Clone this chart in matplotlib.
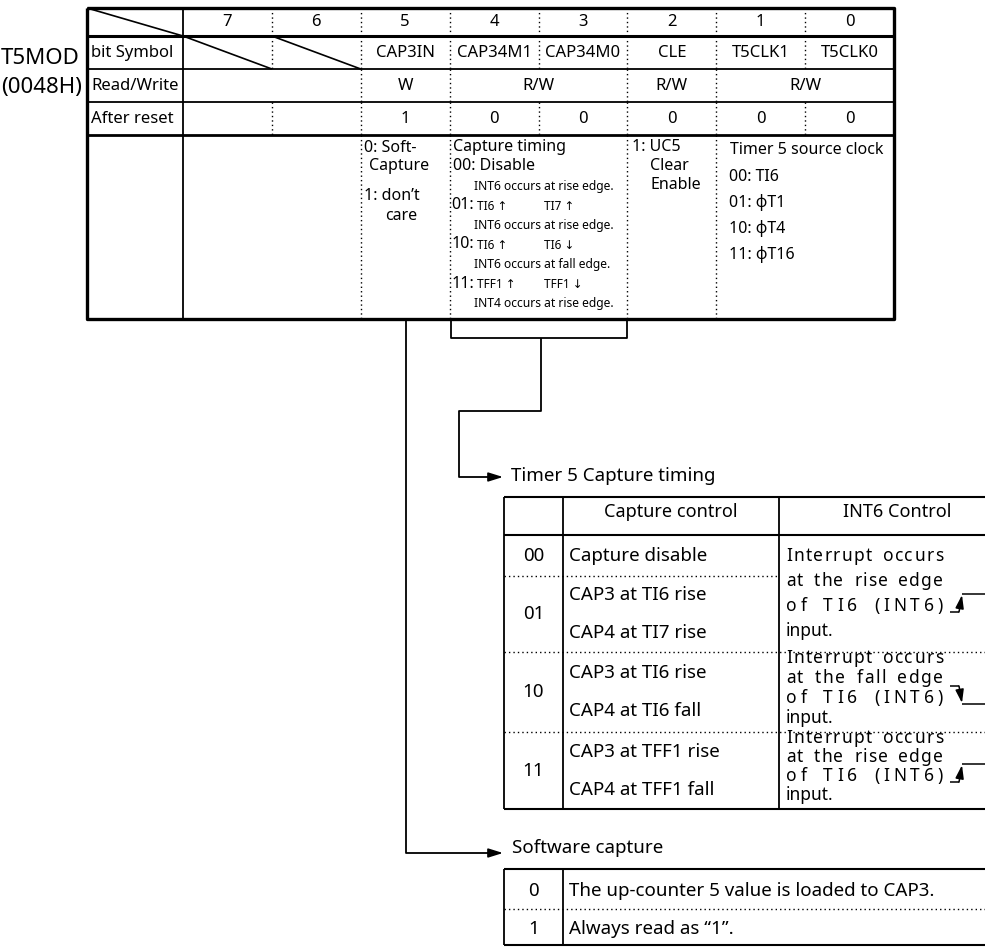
import matplotlib.pyplot as plt

plt.rcParams['font.family'] = ['Noto Sans', 'DejaVu Sans']

# ---- register T5MOD ----
reg_name = 'T5MOD'
reg_addr = '(0048H)'
row_labels = ['bit Symbol', 'Read/Write', 'After reset']
bits = ['7', '6', '5', '4', '3', '2', '1', '0']
symbols = ['', '', 'CAP3IN', 'CAP34M1', 'CAP34M0', 'CLE', 'T5CLK1', 'T5CLK0']
rw_spans = [(0, 2, ''), (2, 3, 'W'), (3, 5, 'R/W'), (5, 6, 'R/W'), (6, 8, 'R/W')]
reset_vals = ['', '', '1', '0', '0', '0', '0', '0']
desc_spans = [(0, 2), (2, 3), (3, 5), (5, 6), (6, 8)]

cap3in_desc = ['0: Soft-', 'Capture', '1: don\u2019t', 'care']
capmode_title = 'Capture timing'
capmode_codes = ['00', '01', '10', '11']
capmode_cap3 = ['Disable', 'TI6 \u2191', 'TI6 \u2191', 'TFF1 \u2191']
capmode_cap4 = ['', 'TI7 \u2191', 'TI6 \u2193', 'TFF1 \u2193']
capmode_int = ['INT6 occurs at rise edge.', 'INT6 occurs at rise edge.',
               'INT6 occurs at fall edge.', 'INT4 occurs at rise edge.']
cle_desc = ['1: UC5', 'Clear', 'Enable']
clk_title = 'Timer 5 source clock'
clk_codes = ['00', '01', '10', '11']
clk_src = ['TI6', '\u03d5T1', '\u03d5T4', '\u03d5T16']

# ---- Timer 5 capture timing table ----
capture_title = 'Timer 5 Capture timing'
cap_header = ['', 'Capture control', 'INT6 Control']
cap_modes = ['00', '01', '10', '11']
cap_ctrl = [['Capture disable'],
            ['CAP3 at TI6 rise', 'CAP4 at TI7 rise'],
            ['CAP3 at TI6 rise', 'CAP4 at TI6 fall'],
            ['CAP3 at TFF1 rise', 'CAP4 at TFF1 fall']]
int6_rows = [(0, 2), (2, 3), (3, 4)]
int6_text = [['Interrupt occurs', 'at the rise edge', 'of TI6 (INT6)', 'input.'],
             ['Interrupt occurs', 'at the fall edge', 'of TI6 (INT6)', 'input.'],
             ['Interrupt occurs', 'at the rise edge', 'of TI6 (INT6)', 'input.']]
int6_edge = ['rise', 'fall', 'rise']

# ---- software capture table ----
sw_title = 'Software capture'
sw_vals = ['0', '1']
sw_text = ['The up-counter 5 value is loaded to CAP3.', 'Always read as \u201c1\u201d.']

fig = plt.figure(figsize=(9.85, 9.47), dpi=100)
ax = fig.add_axes([0, 0, 1, 1])
ax.set_xlim(0, 985)
ax.set_ylim(947, 0)
ax.axis('off')
renderer = fig.canvas.get_renderer()

DOT = (0, (1, 2.2))
K = 'black'


def seg(xs, ys, lw=1.2, ls='-'):
    ax.plot(xs, ys, color=K, lw=lw, ls=ls, solid_capstyle='butt')


def txt(x, y, s, size, ha='left'):
    return ax.text(x, y, s, fontsize=size, ha=ha, va='center', color=K)


def arrow(x0, y0, x1, y1, lw=1.2, scale=11):
    ax.annotate('', xy=(x1, y1), xytext=(x0, y0),
                arrowprops=dict(arrowstyle='-|>,head_length=0.8,head_width=0.25',
                                color=K, lw=lw, shrinkA=0, shrinkB=0,
                                mutation_scale=scale))


def spaced(line, x0, x1, y, size):
    # letter-spaced line filling x0..x1
    space_w = size * 100 / 72 * 0.5
    items, widths = [], []
    for ch in line:
        if ch == ' ':
            items.append(None)
            widths.append(space_w)
        else:
            t = txt(0, y, ch, size)
            items.append(t)
            widths.append(t.get_window_extent(renderer).width)
    extra = (x1 - x0 - sum(widths)) / max(len(line) - 1, 1)
    x = x0
    for t, w in zip(items, widths):
        if t is not None:
            t.set_x(x)
        x += w + extra


# ================= register table =================
L, C0 = 87, 183
cw = (894 - C0) / 8
cx = [C0 + cw * i for i in range(9)]
ry = [8, 36, 69, 102, 135, 319]
R = cx[-1]
TS = 11.5

seg([L, R, R, L, L], [ry[0], ry[0], ry[-1], ry[-1], ry[0]], lw=2.4)
seg([L, R], [ry[1]] * 2, lw=2.2)
seg([L, R], [ry[2]] * 2, lw=1.3)
seg([L, R], [ry[3]] * 2, lw=1.3)
seg([L, R], [ry[4]] * 2, lw=2.0)
seg([C0, C0], [ry[0], ry[-1]], lw=1.3)

# dotted column separators
for i in range(1, 8):
    seg([cx[i]] * 2, [ry[0], ry[1]], lw=1, ls=DOT)
    seg([cx[i]] * 2, [ry[1], ry[2]], lw=1, ls=DOT)
    seg([cx[i]] * 2, [ry[3], ry[4]], lw=1, ls=DOT)
for a, b, _ in rw_spans[1:]:
    seg([cx[a]] * 2, [ry[2], ry[3]], lw=1, ls=DOT)
for a, b in desc_spans[1:]:
    seg([cx[a]] * 2, [ry[4], ry[5]], lw=1, ls=DOT)

# diagonals
seg([L, C0], [ry[0], ry[1]], lw=1.2)
seg([cx[0], cx[1]], [ry[1], ry[2]], lw=1.2)
seg([cx[1], cx[2]], [ry[1], ry[2]], lw=1.2)

txt(1, 58, reg_name, 16)
txt(1, 87, reg_addr, 16)
for j, lab in enumerate(row_labels):
    txt(L + 4, (ry[j + 1] + ry[j + 2]) / 2, lab, 12)

for i in range(8):
    mid = (cx[i] + cx[i + 1]) / 2
    txt(mid, (ry[0] + ry[1]) / 2, bits[i], 12, 'center')
    txt(mid, (ry[1] + ry[2]) / 2, symbols[i], 12, 'center')
    txt(mid, (ry[3] + ry[4]) / 2, reset_vals[i], 12, 'center')
for a, b, s in rw_spans:
    txt((cx[a] + cx[b]) / 2, (ry[2] + ry[3]) / 2, s, 12, 'center')

# bit 5 description
txt(cx[2] + 3, 148, cap3in_desc[0], TS)
txt(cx[2] + 8, 166, cap3in_desc[1], TS)
txt(cx[2] + 3, 196, cap3in_desc[2], TS)
txt(cx[2] + 24, 216, cap3in_desc[3], TS)

# bits 4-3 description
x3 = cx[3] + 3
txt(x3, 147, capmode_title, TS)
for i, code in enumerate(capmode_codes):
    y = 166 + 39.2 * i
    if i == 0:
        txt(x3, y, code + ': ' + capmode_cap3[i], TS)
    else:
        txt(x3 - 1, y, code + ':', TS)
        txt(x3 + 24, y + 1, capmode_cap3[i], 8.5)
        txt(x3 + 91, y + 1, capmode_cap4[i], 8.5)
    txt(x3 + 21, y + 20, capmode_int[i], 8.7)

# bit 2 description
txt(cx[5] + 5, 147, cle_desc[0], TS)
txt(cx[5] + 23, 166, cle_desc[1], TS)
txt(cx[5] + 23, 185, cle_desc[2], TS)

# bits 1-0 description
txt(cx[6] + 14, 150, clk_title, TS)
for i, (c, s) in enumerate(zip(clk_codes, clk_src)):
    txt(cx[6] + 13, 177 + 25.7 * i, c + ': ' + s, TS)

# ================= connectors =================
seg([406, 406, 495], [ry[-1], 853, 853], lw=1.3)
arrow(490, 853, 503, 853)
xb0, xb1 = cx[3] + 1, cx[5]
seg([xb0, xb0, xb1, xb1], [ry[-1], 338, 338, ry[-1]], lw=1.3)
seg([541, 541, 459, 459, 495], [338, 411, 411, 477, 477], lw=1.3)
arrow(490, 477, 503, 477)

LS = 13.5
txt(511, 476, capture_title, LS)
txt(512, 848, sw_title, LS)

# ================= capture timing table =================
tx = [504, 563, 779, 1015]
ty = [497, 535, 576, 652, 732, 809]
seg([tx[0], tx[3]], [ty[0]] * 2, lw=1.5)
seg([tx[0], tx[3]], [ty[1]] * 2, lw=1.5)
seg([tx[0], tx[3]], [ty[-1]] * 2, lw=1.5)
for x in tx[:3]:
    seg([x, x], [ty[0], ty[-1]], lw=1.3)
seg([tx[0], tx[2]], [ty[2]] * 2, lw=1, ls=DOT)
seg([tx[0], tx[3]], [ty[3]] * 2, lw=1, ls=DOT)
seg([tx[0], tx[3]], [ty[4]] * 2, lw=1, ls=DOT)

txt((tx[1] + tx[2]) / 2, 512, cap_header[1], LS - 0.5, 'center')
txt(897, 512, cap_header[2], LS - 0.5, 'center')

for i, mode in enumerate(cap_modes):
    top, bot = ty[i + 1], ty[i + 2]
    mid = (top + bot) / 2
    txt((tx[0] + tx[1]) / 2, mid, mode, LS, 'center')
    lines = cap_ctrl[i]
    if len(lines) == 1:
        txt(tx[1] + 6, mid, lines[0], LS)
    else:
        txt(tx[1] + 6, mid - 19, lines[0], LS)
        txt(tx[1] + 6, mid + 19, lines[1], LS)

for k, (a, b) in enumerate(int6_rows):
    top, bot = ty[a + 1], ty[b + 1]
    h = bot - top
    sp = min(25, h / 4)
    y0 = top + (h - 3 * sp) / 2 - (0 if h > 100 else 4)
    ys = [y0 + sp * j for j in range(4)]
    for j, line in enumerate(int6_text[k]):
        if j < 3:
            spaced(line, 786, 943, ys[j], LS - 1)
        else:
            txt(786, ys[j], line, LS - 1)
    yc = ys[2] - 3
    if int6_edge[k] == 'rise':
        seg([950, 959], [yc + 9, yc + 9], lw=1.1)
        arrow(959, yc + 9, 962, yc - 8, lw=1.1, scale=10)
        seg([962, 990], [yc - 9, yc - 9], lw=1.1)
    else:
        seg([950, 959], [yc - 9, yc - 9], lw=1.1)
        arrow(959, yc - 9, 962, yc + 8, lw=1.1, scale=10)
        seg([962, 990], [yc + 9, yc + 9], lw=1.1)

# ================= software capture table =================
sy = [869, 909, 945]
seg([tx[0], tx[3]], [sy[0]] * 2, lw=1.5)
seg([tx[0], tx[3]], [sy[2]] * 2, lw=1.5)
seg([tx[0], tx[3]], [sy[1]] * 2, lw=1, ls=DOT)
for x in tx[:2]:
    seg([x, x], [sy[0], sy[2]], lw=1.3)
for i, (v, s) in enumerate(zip(sw_vals, sw_text)):
    mid = (sy[i] + sy[i + 1]) / 2 + 2
    txt((tx[0] + tx[1]) / 2, mid, v, LS, 'center')
    txt(tx[1] + 6, mid, s, LS)

fig.savefig('out.png', dpi=100, facecolor='white')
